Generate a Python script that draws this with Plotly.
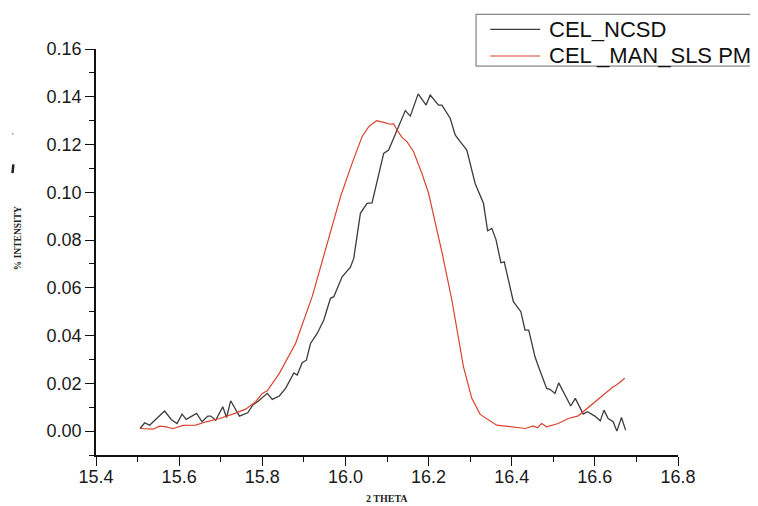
import plotly.graph_objects as go

# CEL_NCSD (black)
ncsd_x = [15.506, 15.517, 15.529, 15.545, 15.565, 15.581, 15.595, 15.607, 15.617, 15.642,
          15.655, 15.669, 15.676, 15.688, 15.705, 15.714, 15.724, 15.745, 15.765, 15.777,
          15.790, 15.812, 15.824, 15.841, 15.856, 15.876, 15.884, 15.896, 15.906, 15.916,
          15.932, 15.948, 15.964, 15.972, 15.992, 16.012, 16.020, 16.036, 16.052, 16.064,
          16.092, 16.104, 16.120, 16.144, 16.156, 16.175, 16.194, 16.204, 16.224, 16.232,
          16.252, 16.264, 16.276, 16.292, 16.312, 16.332, 16.342, 16.352, 16.362, 16.374,
          16.382, 16.404, 16.422, 16.432, 16.441, 16.456, 16.466, 16.484, 16.492, 16.504,
          16.513, 16.542, 16.553, 16.572, 16.582, 16.600, 16.613, 16.622, 16.632, 16.644,
          16.653, 16.664, 16.674]
ncsd_y = [0.0011, 0.0035, 0.0025, 0.0053, 0.0084, 0.0049, 0.0032, 0.0071, 0.0049, 0.0074,
          0.0039, 0.0063, 0.0063, 0.0046, 0.0102, 0.0057, 0.0127, 0.0063, 0.0077, 0.0109,
          0.0125, 0.0158, 0.0133, 0.0147, 0.0179, 0.0244, 0.0235, 0.0286, 0.0297, 0.0367,
          0.0409, 0.0465, 0.0556, 0.0563, 0.0646, 0.0686, 0.0723, 0.0912, 0.0954, 0.0956,
          0.1163, 0.1177, 0.1240, 0.1342, 0.1319, 0.1412, 0.1365, 0.1407, 0.1365, 0.1365,
          0.1310, 0.1240, 0.1212, 0.1177, 0.1037, 0.0954, 0.0839, 0.0849, 0.0803, 0.0705,
          0.0709, 0.0542, 0.0500, 0.0423, 0.0423, 0.0311, 0.0262, 0.0179, 0.0175, 0.0158,
          0.0202, 0.0105, 0.0137, 0.0071, 0.0081, 0.0063, 0.0043, 0.0088, 0.0053, 0.0039,
          0.0000, 0.0057, 0.0004]

# CEL _MAN_SLS PM (red)
sls_x = [15.506, 15.537, 15.553, 15.569, 15.585, 15.609, 15.640, 15.665, 15.697, 15.729,
         15.760, 15.784, 15.800, 15.812, 15.841, 15.880, 15.920, 15.960, 15.988, 16.016,
         16.040, 16.056, 16.075, 16.092, 16.108, 16.116, 16.124, 16.136, 16.148, 16.164,
         16.184, 16.200, 16.220, 16.232, 16.256, 16.284, 16.304, 16.324, 16.364, 16.400,
         16.432, 16.452, 16.462, 16.472, 16.484, 16.512, 16.536, 16.560, 16.572, 16.584,
         16.600, 16.624, 16.644, 16.652, 16.672]
sls_y = [0.0011, 0.0008, 0.0021, 0.0018, 0.0010, 0.0024, 0.0025, 0.0039, 0.0053, 0.0071,
         0.0092, 0.0123, 0.0158, 0.0169, 0.0242, 0.0367, 0.0563, 0.0814, 0.0981, 0.1121,
         0.1233, 0.1275, 0.1300, 0.1293, 0.1285, 0.1286, 0.1261, 0.1230, 0.1212, 0.1170,
         0.1079, 0.0996, 0.0842, 0.0751, 0.0549, 0.0269, 0.0137, 0.0070, 0.0025, 0.0018,
         0.0011, 0.0022, 0.0014, 0.0032, 0.0018, 0.0032, 0.0053, 0.0064, 0.0081, 0.0102,
         0.0123, 0.0158, 0.0186, 0.0193, 0.0221]

series_names = ["CEL_NCSD", "CEL _MAN_SLS PM"]
series_colors = ["#3c3c3c", "#d9432f"]
x_title = "2 THETA"
y_title = "% INTENSITY"

fig = go.Figure()
fig.add_trace(go.Scatter(x=ncsd_x, y=ncsd_y, mode="lines", name=series_names[0],
                         line=dict(color=series_colors[0], width=1.3)))
fig.add_trace(go.Scatter(x=sls_x, y=sls_y, mode="lines", name=series_names[1],
                         line=dict(color=series_colors[1], width=1.2)))

tickfont = dict(family="Liberation Sans, Arial, sans-serif", size=18, color="#1a1a1a")
titlefont = dict(family="Liberation Serif, Times New Roman, serif", size=10, color="#222")
legfont = dict(family="Liberation Sans, Arial, sans-serif", size=22, color="#111")

# legend drawn in paper coordinates (box runs off the right edge as in the original)
shapes = [
    dict(type="rect", xref="paper", yref="paper", x0=0.653, x1=1.16, y0=0.958, y1=1.0855,
         line=dict(color="#666", width=1), fillcolor="white", layer="above"),
    dict(type="line", xref="paper", yref="paper", x0=0.6775, x1=0.7633, y0=1.0485, y1=1.0485,
         line=dict(color=series_colors[0], width=1.2), layer="above"),
    dict(type="line", xref="paper", yref="paper", x0=0.6775, x1=0.7633, y0=0.9828, y1=0.9828,
         line=dict(color=series_colors[1], width=1.2), layer="above"),
    # small stray marks left of the y title
    dict(type="line", xref="paper", yref="paper", x0=-0.1420, x1=-0.1435, y0=0.716, y1=0.694,
         line=dict(color="#222", width=2.5), layer="above"),
    dict(type="line", xref="paper", yref="paper", x0=-0.144, x1=-0.142, y0=0.792, y1=0.790,
         line=dict(color="#999", width=1.5), layer="above"),
]
annotations = [
    dict(text=series_names[0], xref="paper", yref="paper", x=0.7753, y=1.0485,
         xanchor="left", yanchor="middle", showarrow=False, font=legfont),
    dict(text=series_names[1], xref="paper", yref="paper", x=0.7753, y=0.9828,
         xanchor="left", yanchor="middle", showarrow=False, font=legfont),
    dict(text="<b>" + x_title + "</b>", xref="paper", yref="paper", x=0.5, y=-0.108,
         xanchor="center", yanchor="middle", showarrow=False, font=titlefont),
    dict(text="<b>" + y_title + "</b>", xref="paper", yref="paper", x=-0.134, y=0.534,
         xanchor="center", yanchor="middle", showarrow=False, textangle=-90,
         font=dict(family="Liberation Serif, Times New Roman, serif", size=9.5, color="#222")),
]

# the page adds an 8px body margin, so the figure is sized to the visible area
fig.update_layout(
    width=750, height=498,
    margin=dict(l=88, r=80, t=41, b=51),
    paper_bgcolor="white", plot_bgcolor="white",
    showlegend=False,
    shapes=shapes,
    annotations=annotations,
    xaxis=dict(range=[15.4, 16.8], tick0=15.4, dtick=0.2, tickformat=".1f",
               showgrid=False, zeroline=False, showline=True, linecolor="#111", linewidth=1.5,
               ticks="outside", ticklen=9, tickwidth=1.3, tickcolor="#111", tickfont=tickfont,
               ticklabelstandoff=-4,
               minor=dict(dtick=0.1, ticks="outside", ticklen=5, tickwidth=1.3, tickcolor="#111",
                          showgrid=False)),
    yaxis=dict(range=[-0.01, 0.16], tick0=0, dtick=0.02, tickformat=".2f",
               showgrid=False, zeroline=False, showline=True, linecolor="#111", linewidth=1.5,
               ticks="outside", ticklen=9, tickwidth=1.3, tickcolor="#111", tickfont=tickfont,
               ticklabelstandoff=0,
               minor=dict(dtick=0.01, ticks="outside", ticklen=5, tickwidth=1.3, tickcolor="#111",
                          showgrid=False)),
)

fig.write_html("out.html")
